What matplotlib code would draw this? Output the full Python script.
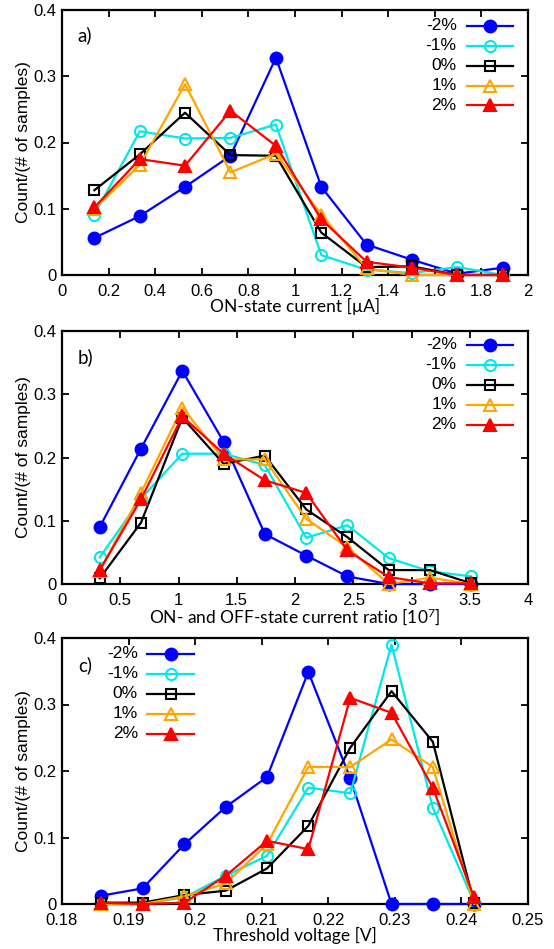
import matplotlib
matplotlib.use('Agg')
import matplotlib.pyplot as plt
from matplotlib.ticker import FuncFormatter
import numpy as np

plt.rcParams['font.family'] = ['Liberation Sans', 'DejaVu Sans']
plt.rcParams['mathtext.fontset'] = 'custom'
plt.rcParams['mathtext.rm'] = 'Lato'
plt.rcParams['mathtext.it'] = 'Lato:italic'

# strain labels
strains = ['-2%', '-1%', '0%', '1%', '2%']

# a) ON-state current [uA]
ion_x = [0.139, 0.334, 0.528, 0.723, 0.918, 1.113, 1.307, 1.502, 1.697, 1.891]
ion_m2 = [0.056, 0.089, 0.133, 0.180, 0.328, 0.133, 0.046, 0.023, 0.002, 0.011]
ion_m1 = [0.091, 0.217, 0.206, 0.207, 0.227, 0.030, 0.008, 0.003, 0.012, 0.0]
ion_0 = [0.128, 0.182, 0.245, 0.181, 0.180, 0.064, 0.012, 0.013, 0.0, 0.0]
ion_p1 = [0.100, 0.166, 0.288, 0.155, 0.183, 0.091, 0.010, 0.0, 0.0, 0.0]
ion_p2 = [0.102, 0.175, 0.165, 0.248, 0.195, 0.084, 0.020, 0.011, 0.0, 0.0]

# b) ON/OFF ratio [1e7]
ratio_x = [0.324, 0.678, 1.033, 1.387, 1.741, 2.096, 2.450, 2.804, 3.159, 3.513]
ratio_m2 = [0.090, 0.214, 0.337, 0.225, 0.079, 0.045, 0.012, 0.0, 0.0, 0.0]
ratio_m1 = [0.042, 0.135, 0.206, 0.206, 0.188, 0.073, 0.093, 0.041, 0.020, 0.012]
ratio_0 = [0.009, 0.097, 0.263, 0.190, 0.203, 0.118, 0.074, 0.022, 0.022, 0.001]
ratio_p1 = [0.020, 0.144, 0.279, 0.197, 0.197, 0.103, 0.058, 0.0, 0.010, 0.0]
ratio_p2 = [0.022, 0.134, 0.265, 0.206, 0.164, 0.144, 0.053, 0.011, 0.001, 0.001]

# c) threshold voltage [V]
vth_x = [0.1859, 0.1921, 0.1984, 0.2046, 0.2108, 0.2170, 0.2233, 0.2295, 0.2357, 0.2419]
vth_m2 = [0.0125, 0.0235, 0.090, 0.146, 0.191, 0.349, 0.189, 0.0, 0.0, 0.0]
vth_m1 = [0.0, 0.0, 0.010, 0.0425, 0.0725, 0.175, 0.1665, 0.390, 0.145, 0.0025]
vth_0 = [0.002, 0.002, 0.0135, 0.020, 0.0535, 0.1175, 0.235, 0.320, 0.244, 0.0015]
vth_p1 = [0.0, 0.0, 0.0115, 0.031, 0.090, 0.206, 0.206, 0.2475, 0.206, 0.0]
vth_p2 = [0.002, 0.0, 0.002, 0.0425, 0.095, 0.0825, 0.310, 0.2875, 0.175, 0.010]

styles = [dict(color='#0000ff', marker='o', mfc='#0000ff', ms=8.5),
          dict(color='#00e8e8', marker='o', mfc='none', ms=8),
          dict(color='black', marker='s', mfc='none', ms=7.5),
          dict(color='#ffa500', marker='^', mfc='none', ms=9),
          dict(color='#ff0000', marker='^', mfc='#ff0000', ms=9)]

fs = 12.5
W, H = 554, 949
fig = plt.figure(figsize=(W/100, H/100), dpi=100)
g = FuncFormatter(lambda v, p: '%g' % round(v, 3))


def make_panel(rect, xs, series, xlim, xticks, xlabel, tag, leg):
  ax = fig.add_axes([rect[0]/W, 1-rect[3]/H, (rect[1]-rect[0])/W, (rect[3]-rect[2])/H])
  for ys, st in zip(series, styles):
    ax.plot(xs, ys, lw=1.6, mew=1.5, clip_on=False, zorder=3, **st)
  ax.set_xlim(*xlim)
  ax.set_ylim(0, 0.4)
  ax.set_xticks(xticks)
  ax.set_yticks([0, 0.1, 0.2, 0.3, 0.4])
  ax.xaxis.set_major_formatter(g)
  ax.yaxis.set_major_formatter(g)
  ax.tick_params(direction='in', top=True, right=True, length=5, width=1.3,
                 labelsize=12)
  ax.tick_params(axis='x', pad=6.5)
  ax.tick_params(axis='y', pad=4)
  for s in ax.spines.values():
    s.set_linewidth(1.6)
  ax.set_xlabel(xlabel, fontsize=12.5, family='Lato', labelpad=-1)
  ax.set_ylabel('Count/(# of samples)', fontsize=12.5, labelpad=2)
  ax.text(0.034, tag[1], tag[0], transform=ax.transAxes, fontsize=13.5,
          family='Lato', va='center')
  # gnuplot style key: text right aligned, then line sample with marker
  xt, x0, x1, yt, dy = leg
  for i, (lab, st) in enumerate(zip(strains, styles)):
    y = yt - i*dy
    ax.plot([x0, (x0+x1)/2, x1], [y, y, y], transform=ax.transAxes,
            markevery=[1], lw=1.6, mew=1.5, clip_on=False, **st)
    ax.text(xt, y, lab, transform=ax.transAxes, ha='right', va='center', fontsize=fs)
  return ax


make_panel((62, 528, 10, 275), ion_x, [ion_m2, ion_m1, ion_0, ion_p1, ion_p2],
           (0, 2), np.arange(0, 2.01, 0.2), 'ON-state current [µA]',
           ('a)', 0.906), (0.847, 0.870, 0.968, 0.94, 0.075))

make_panel((62, 528, 331, 584), ratio_x, [ratio_m2, ratio_m1, ratio_0, ratio_p1, ratio_p2],
           (0, 4), np.arange(0, 4.01, 0.5), 'ON- and OFF-state current ratio [10$^7$]',
           ('b)', 0.897), (0.847, 0.870, 0.968, 0.945, 0.079))

make_panel((62, 528, 638, 904), vth_x, [vth_m2, vth_m1, vth_0, vth_p1, vth_p2],
           (0.18, 0.25), np.arange(0.18, 0.2501, 0.01), 'Threshold voltage [V]',
           ('c)', 0.898), (0.163, 0.182, 0.284, 0.94, 0.075))

fig.savefig('out.png', dpi=100)
